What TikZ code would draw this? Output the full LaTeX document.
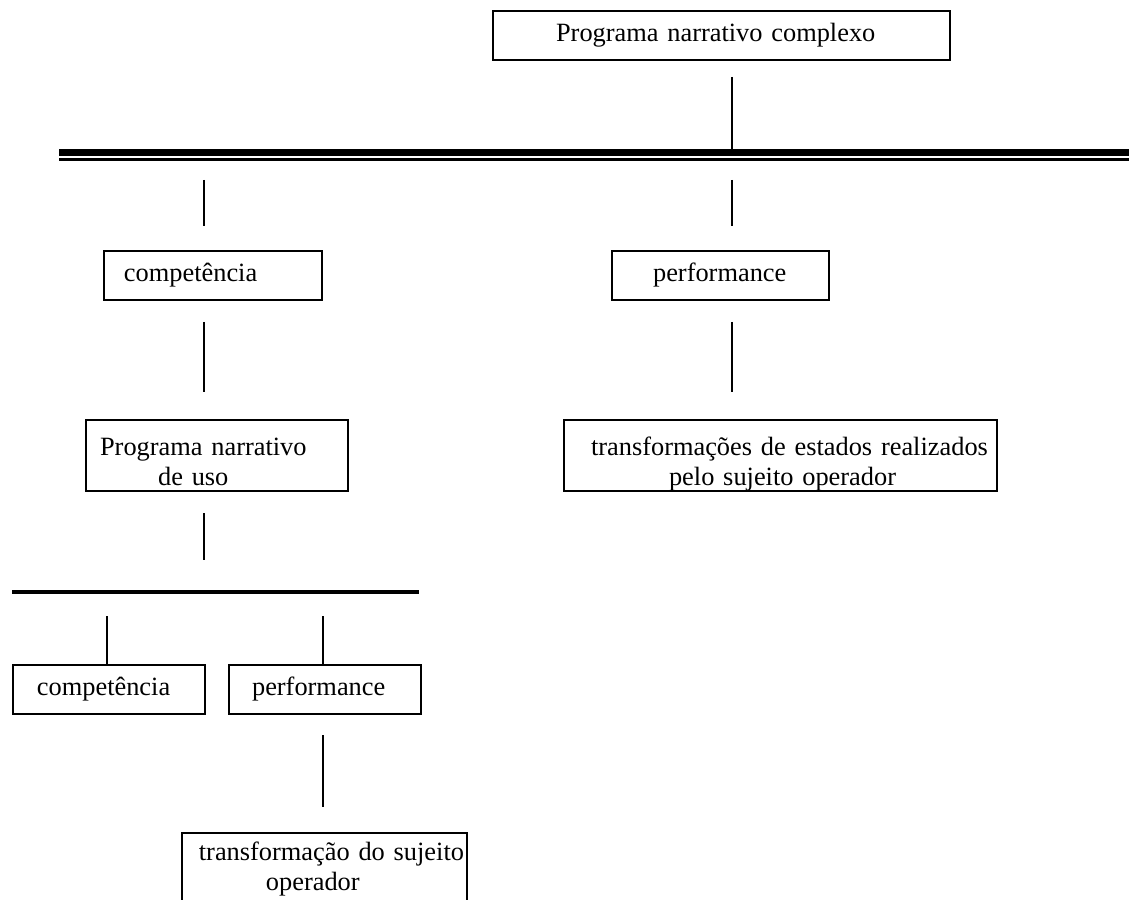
\documentclass[tikz,border=0pt]{standalone}
\usepackage{fontspec}
\setmainfont{Liberation Serif}

\begin{document}
\begin{tikzpicture}[x=0.455pt,y=-0.455pt,
	box/.style={draw,line width=0.9pt,inner sep=0pt,anchor=north west,align=left,font=\fontsize{12}{13.8}\selectfont},
	twoline/.style={text height=8pt,text depth=8pt},
	stub/.style={line width=1.2pt}]
	\useasboundingbox (0,0) rectangle (1129,900);
	\begin{scope}[every node/.style={box}]
		\node[text width=207.9pt,minimum height=22.3pt] (pnc) at (492,10) {\hspace*{28.7pt}Programa narrativo complexo};
		\node[text width=99.2pt,minimum height=22.3pt] (comp) at (103,250) {\hspace*{9.1pt}competência};
		\node[text width=98.7pt,minimum height=22.3pt] (perf) at (611,250) {\hspace*{18.7pt}performance};
		\node[twoline,text width=119.2pt,minimum height=32.3pt] (pnu) at (85,419) {\hspace*{6.4pt}Programa narrativo\\\hspace*{32.8pt}de uso};
		\node[twoline,text width=197pt,minimum height=32.3pt] (trans) at (563,419) {\hspace*{12.3pt}transformações de estados realizados\\\hspace*{47.8pt}pelo sujeito operador};
		\node[text width=87.4pt,minimum height=22.3pt] (comp2) at (12,664) {\hspace*{10.9pt}competência};
		\node[text width=87.4pt,minimum height=22.3pt] (perf2) at (228,664) {\hspace*{10.5pt}performance};
		\node[text width=129.7pt,minimum height=32.8pt] (tsuj) at (181,832) {\hspace*{7.7pt}transformação do sujeito\\\hspace*{38.2pt}operador};
	\end{scope}
	% double bar
	\coordinate (barL) at (59,152.5);
	\coordinate (barR) at (1140,152.5);
	\draw[line width=3.2pt] (barL) -- (barR);
	\draw[line width=1.1pt] ([yshift=-3.2pt]barL) -- ([yshift=-3.2pt]barR);
	% bar of the second level
	\coordinate (hbL) at (12,592);
	\coordinate (hbR) at (419,592);
	\draw[line width=1.5pt] (hbL) -- (hbR);
	% stubs
	\foreach \n/\x/\ya/\yb in {a/732/77/149, b/204/180/226, c/732/180/226, d/204/322/392, e/732/322/392, f/204/513/560, g/323/735/807}{
		\coordinate (\n1) at (\x,\ya);
		\coordinate (\n2) at (\x,\yb);
		\draw[stub] (\n1) -- (\n2);
	}
	\coordinate (h1) at (107,616);
	\coordinate (h2) at (323,616);
	\draw[stub] (h1) -- (h1 |- comp2.north);
	\draw[stub] (h2) -- (h2 |- perf2.north);
\end{tikzpicture}
\end{document}
